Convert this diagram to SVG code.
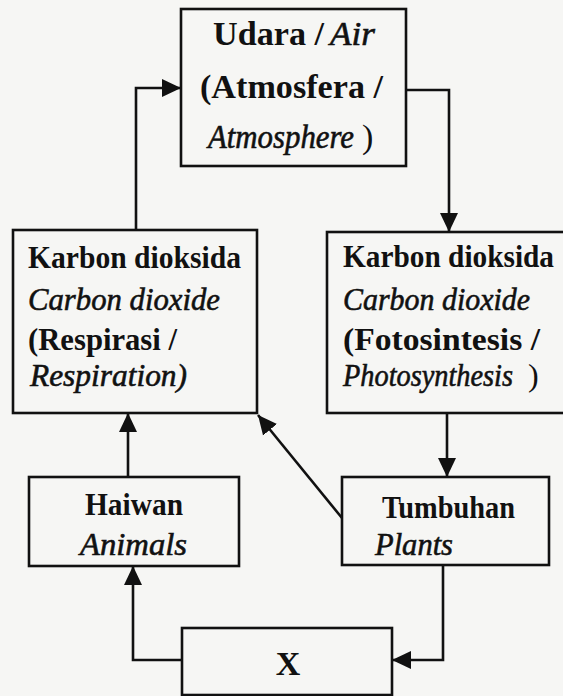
<svg xmlns="http://www.w3.org/2000/svg" width="563" height="696" viewBox="0 0 563 696">
  <defs>
    <marker id="arr" markerUnits="userSpaceOnUse" markerWidth="20" markerHeight="20" viewBox="0 0 20 20" refX="19" refY="10" orient="auto">
      <path d="M0,1 L19,10 L0,19 Z" fill="#111"/>
    </marker>
    <style>
      .box { fill: none; stroke: #111; stroke-width: 2.6; }
      .con { fill: none; stroke: #111; stroke-width: 2.6; marker-end: url(#arr); }
      text { font-family: "Liberation Serif", "Times New Roman", serif; fill: #111; }
      .b { font-weight: bold; }
      .i { font-style: italic; stroke: #111; stroke-width: 0.6; }
      .t { font-size: 34px; }
      .m { font-size: 32px; }
    </style>
  </defs>
  <rect x="0" y="0" width="563" height="696" fill="#f6f6f4"/>

  <g id="udara">
    <rect class="box" x="181" y="9" width="225" height="157"/>
    <text class="t b" x="213" y="45" textLength="111" lengthAdjust="spacingAndGlyphs">Udara /</text>
    <text class="t i" x="330" y="45" textLength="45" lengthAdjust="spacingAndGlyphs">Air</text>
    <text class="t b" x="200" y="98" textLength="183" lengthAdjust="spacingAndGlyphs">(Atmosfera /</text>
    <text class="t i" x="208" y="148" textLength="146" lengthAdjust="spacingAndGlyphs">Atmosphere</text>
    <text class="t" x="362" y="148">)</text>
  </g>

  <g id="respirasi">
    <rect class="box" x="13" y="230" width="244" height="183"/>
    <text class="m b" x="28" y="268" textLength="213" lengthAdjust="spacingAndGlyphs">Karbon dioksida</text>
    <text class="m i" x="28" y="310" textLength="192" lengthAdjust="spacingAndGlyphs">Carbon dioxide</text>
    <text class="m b" x="28" y="350" textLength="149" lengthAdjust="spacingAndGlyphs">(Respirasi /</text>
    <text class="m i" x="30" y="386" textLength="157" lengthAdjust="spacingAndGlyphs">Respiration)</text>
  </g>

  <g id="fotosintesis">
    <rect class="box" x="327" y="232" width="250" height="181"/>
    <text class="m b" x="343" y="267" textLength="211" lengthAdjust="spacingAndGlyphs">Karbon dioksida</text>
    <text class="m i" x="343" y="310" textLength="187" lengthAdjust="spacingAndGlyphs">Carbon dioxide</text>
    <text class="m b" x="343" y="350" textLength="197" lengthAdjust="spacingAndGlyphs">(Fotosintesis /</text>
    <text class="m i" x="343" y="386" textLength="170" lengthAdjust="spacingAndGlyphs">Photosynthesis</text>
    <text class="m" x="528" y="386">)</text>
  </g>

  <g id="haiwan">
    <rect class="box" x="29" y="477" width="210" height="89"/>
    <text class="m b" x="85" y="515" textLength="98" lengthAdjust="spacingAndGlyphs">Haiwan</text>
    <text class="m i" x="80" y="555" textLength="107" lengthAdjust="spacingAndGlyphs">Animals</text>
  </g>

  <g id="tumbuhan">
    <rect class="box" x="342" y="477" width="207" height="88"/>
    <text class="m b" x="382" y="518" textLength="133" lengthAdjust="spacingAndGlyphs">Tumbuhan</text>
    <text class="m i" x="375" y="555" textLength="78" lengthAdjust="spacingAndGlyphs">Plants</text>
  </g>

  <g id="x">
    <rect class="box" x="182" y="628" width="210" height="67"/>
    <text class="t b" x="288" y="675" text-anchor="middle">X</text>
  </g>

  <g id="connectors">
    <path class="con" d="M136,230 V88 H181"/>
    <path class="con" d="M406,90 H449 V232"/>
    <path class="con" d="M447,413 V477"/>
    <path class="con" d="M342,518 L258,415"/>
    <path class="con" d="M128,477 V413"/>
    <path class="con" d="M182,660 H133 V566"/>
    <path class="con" d="M443,565 V660 H392"/>
  </g>
</svg>
